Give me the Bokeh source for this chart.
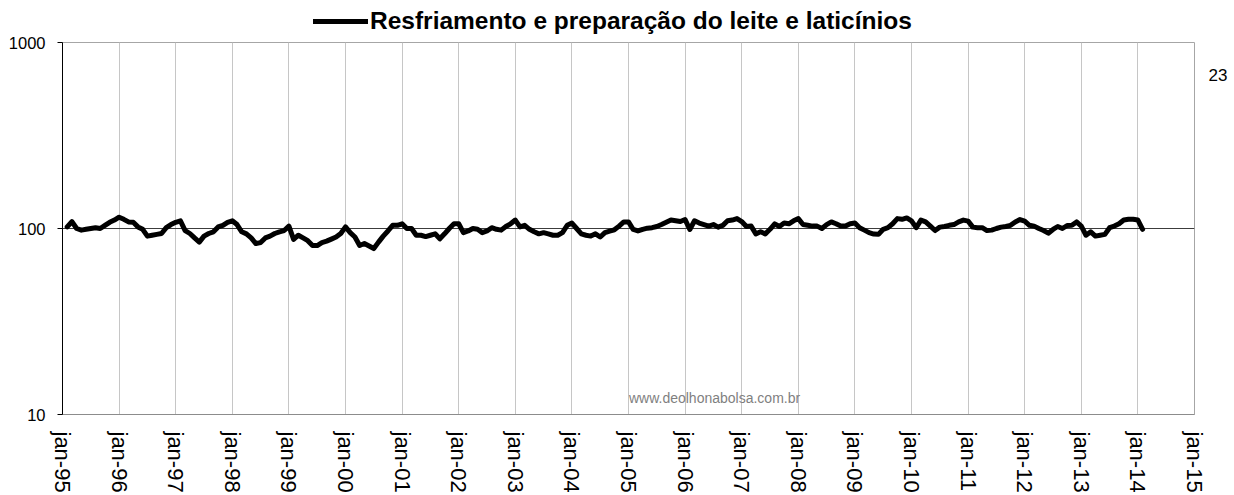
import pandas as pd
from bokeh.plotting import figure
from bokeh.layouts import column
from bokeh.models import (Range1d, FixedTicker, Span, Label, Legend, LegendItem,
                          ColumnDataSource, LogAxis)
from bokeh.embed import file_html
from bokeh.resources import INLINE

# ---- data -------------------------------------------------------------
series_name = "Resfriamento e preparação do leite e laticínios"
start_month = "1995-02-01"
values = [
    102, 109, 100, 98, 99, 100, 101, 100, 104, 108, 111,            # 1995 (fev-dez)
    115, 112, 108.5, 108, 102, 99, 91, 92, 93, 94, 101, 105,        # 1996
    108, 110, 97.5, 94, 89, 84.5, 91, 94, 96, 102, 104, 108,        # 1997
    110, 105, 96, 93.6, 89, 83, 84, 89, 91, 94, 96, 97.5,           # 1998
    103, 87.4, 92, 89, 86, 81, 81, 84, 85.5, 87.7, 90, 94,          # 1999
    102, 95, 90, 81, 83, 80.5, 78, 84.5, 91, 97, 104, 104,          # 2000
    106, 100, 100, 92, 92, 90.5, 92, 93.6, 88, 93.6, 100, 106,      # 2001
    106, 95, 97, 100, 99, 95, 97, 101, 99, 98, 102.5, 106,          # 2002
    111, 102, 104, 99, 96, 93.6, 95, 93.6, 92, 92, 95, 104,         # 2003
    107, 100, 93.6, 92, 91, 93.6, 90, 95, 96.8, 98.4, 103, 108.5,   # 2004
    108.5, 98.8, 97, 99, 100.4, 101, 102.5, 105, 108, 111, 110, 109,  # 2005
    111.7, 98.8, 110, 107, 105, 103, 105, 101.7, 104, 110, 111, 113,  # 2006
    109, 102.5, 103, 93.6, 96, 93.6, 99, 106, 102.5, 107, 106, 110,   # 2007
    113, 105, 104, 103, 103, 100, 105, 108.5, 106, 103, 103, 106,     # 2008
    107, 101, 98, 95, 93.3, 93, 99, 101, 106, 113, 112, 114,          # 2009
    110, 101, 111, 108.5, 103, 97.5, 101.7, 102.5, 104, 105, 108.5, 111,  # 2010
    109.5, 101.7, 101, 101, 97.5, 98, 100, 101.7, 102.5, 104, 108.5, 111.7,  # 2011
    109.5, 104, 103, 100, 97.5, 94.4, 98.8, 102.5, 100, 103.8, 104, 108.5,   # 2012
    103, 92, 96, 91, 92, 93, 101, 103, 106, 111, 112, 112,           # 2013
    111, 99,                                                           # 2014
]
year_ticks = list(range(1995, 2016))
year_labels = ["jan-%02d" % (y % 100) for y in year_ticks]
y_ticks = [10, 100, 1000]
y_labels = ["10", "100", "1000"]
watermark = "www.deolhonabolsa.com.br"
side_note = "23"
side_note_level = 667

dates = pd.date_range(start_month, periods=len(values), freq="MS")
xs = [d.year + (d.month - 1) / 12.0 for d in dates]
src = ColumnDataSource(data=dict(x=xs, y=values))

FONT = "Liberation Sans"
LINE_STYLE = dict(line_color="black", line_width=5, line_join="round", line_cap="round")

# ---- header strip holding the legend (acts as the chart title) ----------
head = figure(width=1234, height=35, output_backend="svg", toolbar_location=None,
              x_range=Range1d(0, 1), y_range=Range1d(0, 1),
              x_axis_location=None, y_axis_location=None,
              min_border_left=0, min_border_right=0, min_border_top=0,
              min_border_bottom=0)
head.outline_line_color = None
head.xgrid.visible = False
head.ygrid.visible = False
# legend-key renderer only (a single undefined point, nothing is drawn)
key = head.line(x=[float("nan")], y=[float("nan")], **LINE_STYLE)
legend = Legend(items=[LegendItem(label=series_name, renderers=[key])],
                location=(251, 0), orientation="horizontal",
                glyph_width=55, glyph_height=20, label_standoff=2,
                label_text_font=FONT, label_text_font_style="bold",
                label_text_font_size="24.5px", label_text_color="black",
                border_line_color=None, background_fill_alpha=0,
                padding=0, margin=0, spacing=0)
head.add_layout(legend)

# ---- main chart ---------------------------------------------------------
p = figure(width=1234, height=460, output_backend="svg", toolbar_location=None,
           y_axis_type="log", x_range=Range1d(1995, 2015), y_range=Range1d(10, 1000),
           min_border_left=62, min_border_right=40, min_border_top=7,
           min_border_bottom=79)
p.background_fill_color = "white"
p.border_fill_color = "white"
p.outline_line_color = "#a6a6a6"

line = p.line("x", "y", source=src, **LINE_STYLE)

p.xgrid.ticker = FixedTicker(ticks=year_ticks)
p.xgrid.grid_line_color = "#c6c6c6"
p.xgrid.grid_line_width = 1
p.ygrid.visible = False
p.add_layout(Span(location=100, dimension="width", line_color="#3c3c3c",
                  line_width=1, level="underlay"))

xa = p.xaxis[0]
xa.ticker = FixedTicker(ticks=year_ticks)
xa.major_label_overrides = {y: l for y, l in zip(year_ticks, year_labels)}
xa.major_label_orientation = -1.5708
xa.major_label_text_font = FONT
xa.major_label_text_font_size = "22px"
xa.major_label_text_color = "black"
xa.major_tick_line_color = None
xa.minor_tick_line_color = None
xa.axis_line_color = "#8c8c8c"
xa.major_label_standoff = 11

ya = p.yaxis[0]
ya.ticker = FixedTicker(ticks=y_ticks)
ya.major_label_overrides = {t: l for t, l in zip(y_ticks, y_labels)}
ya.major_label_text_font = FONT
ya.major_label_text_font_size = "16.5px"
ya.major_label_text_color = "black"
ya.major_tick_out = 5
ya.major_tick_in = 0
ya.major_tick_line_color = "black"
ya.minor_tick_line_color = None
ya.axis_line_color = "black"
ya.major_label_standoff = 12

# the "23" note at the right edge, as a label-only right axis
ra = LogAxis(ticker=FixedTicker(ticks=[side_note_level]),
             major_label_overrides={side_note_level: side_note},
             axis_line_color=None, major_tick_line_color=None,
             minor_tick_line_color=None, major_label_standoff=8,
             major_label_text_font=FONT, major_label_text_font_size="17px",
             major_label_text_color="black")
p.add_layout(ra, "right")

p.add_layout(Label(x=2006.52, y=12.2, text=watermark, text_align="center",
                   text_baseline="middle", text_font=FONT, text_font_size="14px",
                   text_color="#7f7f7f"))

open("out.html", "w").write(file_html(column(head, p, spacing=0), INLINE))
